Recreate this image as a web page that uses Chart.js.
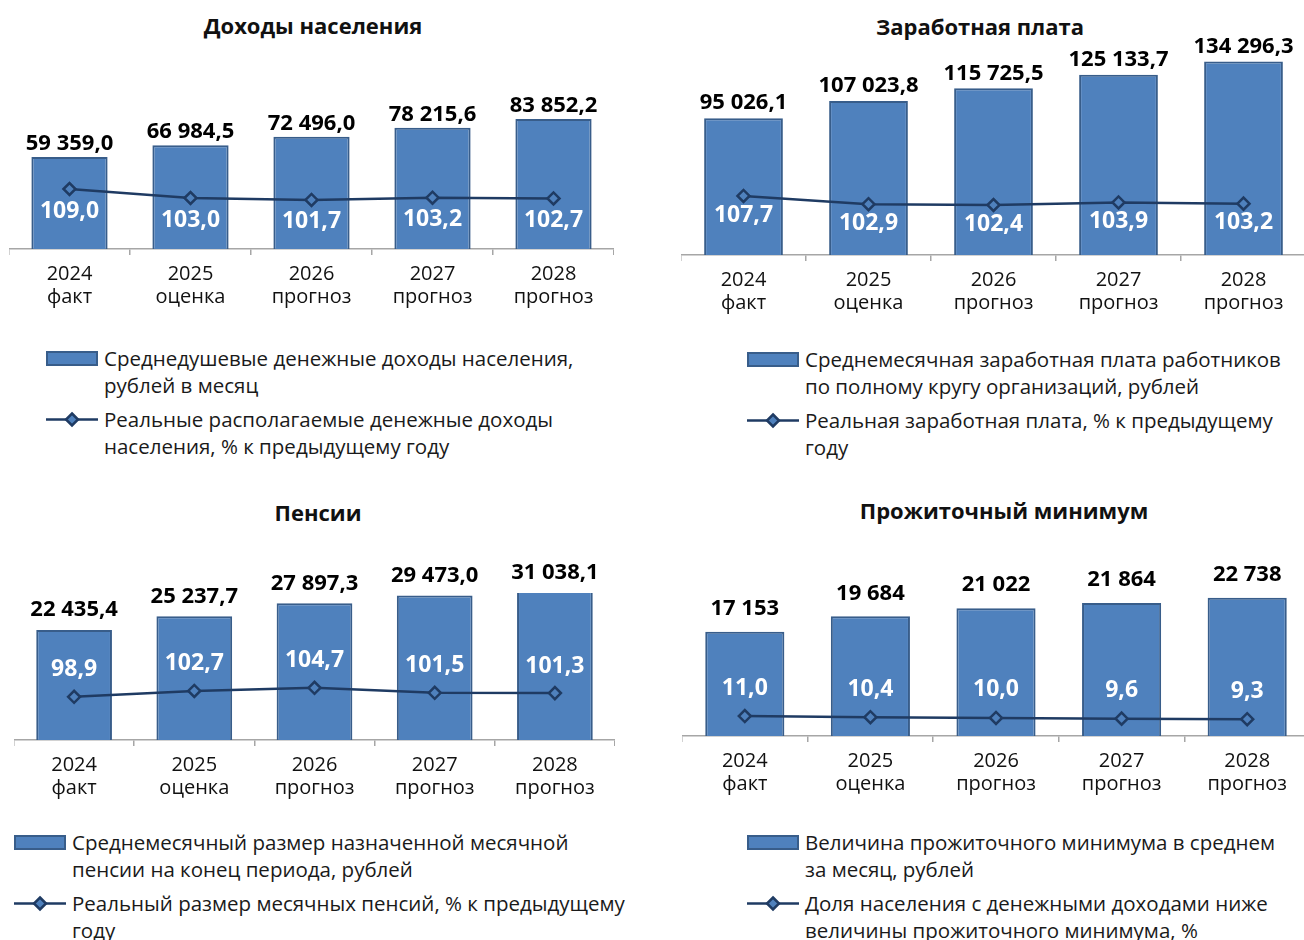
<!DOCTYPE html>
<html lang="ru">
<head>
<meta charset="utf-8">
<title>Доходы, зарплата, пенсии, прожиточный минимум</title>
<script src="https://cdn.jsdelivr.net/npm/chart.js@4.4.1/dist/chart.umd.min.js"></script>
<style>
  html, body { margin: 0; padding: 0; background: #fff; overflow: hidden; }
  body { width: 1304px; height: 940px; position: relative; font-family: "Open Sans", sans-serif; color: #111; }
  .title { position: absolute; font-weight: bold; font-size: 22px; transform: translate(-50%, -50%); white-space: nowrap; }
  .box { position: absolute; }
  .legend { position: absolute; font-size: 20.5px; line-height: 27px; color: #1a1a1a; }
  .item { position: relative; padding-left: 58px; margin-bottom: 7px; white-space: nowrap; }
  .sw { position: absolute; left: 0; top: 0; width: 52px; height: 27px; }
</style>
</head>
<body>

<div class="title" style="left:313px; top:25px;">Доходы населения</div>
<div class="title" style="left:980px; top:26px;">Заработная плата</div>
<div class="title" style="left:318px; top:512px;">Пенсии</div>
<div class="title" style="left:1004px; top:510px;">Прожиточный минимум</div>

<div class="box" style="left:9px; top:20px; width:605px; height:297px;"><canvas id="incomeChart"></canvas></div>
<div class="box" style="left:681px; top:10px; width:625px; height:313px;"><canvas id="wageChart"></canvas></div>
<div class="box" style="left:14px; top:540px; width:601px; height:268px;"><canvas id="pensionChart"></canvas></div>
<div class="box" style="left:682px; top:540px; width:628px; height:264px;"><canvas id="minimumChart"></canvas></div>

<div class="legend" id="incomeLegend" style="left:46px; top:345px;"></div>
<div class="legend" id="wageLegend" style="left:747px; top:346px;"></div>
<div class="legend" id="pensionLegend" style="left:14px; top:829px;"></div>
<div class="legend" id="minimumLegend" style="left:747px; top:829px;"></div>

<script>
// categories
const years = [['2024', 'факт'], ['2025', 'оценка'], ['2026', 'прогноз'], ['2027', 'прогноз'], ['2028', 'прогноз']];

// Доходы населения
const incomeValues = [59359.0, 66984.5, 72496.0, 78215.6, 83852.2];
const realIncomeValues = [109.0, 103.0, 101.7, 103.2, 102.7];
const incomeBarLabel = ['Среднедушевые денежные доходы населения,', 'рублей в месяц'];
const incomeLineLabel = ['Реальные располагаемые денежные доходы', 'населения, % к предыдущему году'];

// Заработная плата
const wageValues = [95026.1, 107023.8, 115725.5, 125133.7, 134296.3];
const realWageValues = [107.7, 102.9, 102.4, 103.9, 103.2];
const wageBarLabel = ['Среднемесячная заработная плата работников', 'по полному кругу организаций, рублей'];
const wageLineLabel = ['Реальная заработная плата, % к предыдущему', 'году'];

// Пенсии
const pensionValues = [22435.4, 25237.7, 27897.3, 29473.0, 31038.1];
const realPensionValues = [98.9, 102.7, 104.7, 101.5, 101.3];
const pensionBarLabel = ['Среднемесячный размер назначенной месячной', 'пенсии на конец периода, рублей'];
const pensionLineLabel = ['Реальный размер месячных пенсий, % к предыдущему', 'году'];

// Прожиточный минимум
const minimumValues = [17153, 19684, 21022, 21864, 22738];
const belowMinimumShare = [11.0, 10.4, 10.0, 9.6, 9.3];
const minimumBarLabel = ['Величина прожиточного минимума в среднем', 'за месяц, рублей'];
const minimumLineLabel = ['Доля населения с денежными доходами ниже', 'величины прожиточного минимума, %'];

const BAR_FILL = '#4f81bd';
const BAR_BORDER = '#385d8a';
const LINE_COLOR = '#1f3b63';
const AXIS_GRAY = '#a6a6a6';
const FONT = '"Open Sans", sans-serif';

// 59359.0 -> "59 359,0"
function fmt(v, d) {
    const parts = v.toFixed(d).split('.');
    const whole = parts[0].replace(/\B(?=(\d{3})+(?!\d))/g, ' ');
    return parts.length > 1 ? whole + ',' + parts[1] : whole;
}

// Draws the value labels (no datalabels plugin available offline)
const valueLabels = {
    id: 'valueLabels',
    afterDatasetsDraw(chart, args, opts) {
        const ctx = chart.ctx;
        const area = chart.chartArea;
        ctx.save();
        ctx.textAlign = 'center';
        ctx.textBaseline = 'middle';
        chart.data.datasets.forEach((ds, i) => {
            const meta = chart.getDatasetMeta(i);
            meta.data.forEach((el, j) => {
                const v = ds.data[j];
                if (ds.type === 'bar') {
                    const top = Math.max(el.y, area.top);
                    ctx.font = 'bold 22px ' + FONT;
                    ctx.fillStyle = '#000';
                    ctx.fillText(fmt(v, opts.barDecimals), el.x, top - opts.barOffset);
                } else {
                    ctx.font = 'bold 23px ' + FONT;
                    ctx.fillStyle = '#fff';
                    ctx.fillText(fmt(v, 1), el.x, el.y + opts.lineOffset);
                }
            });
        });
        ctx.restore();
    }
};

function makeChart(id, barValues, lineValues, barLabel, lineLabel, s) {
    const ctx = document.getElementById(id).getContext('2d');
    return new Chart(ctx, {
        data: {
            labels: years,
            datasets: [{
                type: 'line',
                label: lineLabel.join(' '),
                data: lineValues,
                yAxisID: 'y1',
                order: 1,
                borderColor: LINE_COLOR,
                borderWidth: 2.5,
                pointStyle: 'rectRot',
                pointRadius: 6,
                pointBorderWidth: 2.5,
                pointBorderColor: LINE_COLOR,
                pointBackgroundColor: BAR_FILL,
                tension: 0
            }, {
                type: 'bar',
                label: barLabel.join(' '),
                data: barValues,
                yAxisID: 'y',
                order: 2,
                backgroundColor: BAR_FILL,
                borderColor: BAR_BORDER,
                borderWidth: 2,
                categoryPercentage: 1,
                barPercentage: 0.63,
                clip: 0
            }]
        },
        options: {
            responsive: true,
            maintainAspectRatio: false,
            animation: false,
            layout: { autoPadding: false, padding: { top: s.padTop, left: 0, right: 0, bottom: 0 } },
            plugins: {
                legend: { display: false },
                tooltip: { enabled: false },
                valueLabels: { barDecimals: s.barDecimals, barOffset: s.barOffset, lineOffset: s.lineOffset }
            },
            scales: {
                x: {
                    offset: true,
                    grid: {
                        offset: true,
                        drawOnChartArea: false,
                        drawTicks: true,
                        tickLength: 6,
                        color: AXIS_GRAY,
                        lineWidth: 1.5
                    },
                    border: { display: true, color: AXIS_GRAY, width: 1.5 },
                    ticks: {
                        color: '#111',
                        padding: 8,
                        maxRotation: 0,
                        autoSkip: false,
                        font: { family: FONT, size: 20, lineHeight: 1.15 }
                    }
                },
                y: { display: false, min: 0, max: s.barMax },
                y1: { display: false, min: s.lineMin, max: s.lineMax }
            }
        },
        plugins: [valueLabels]
    });
}

function swatchSvg(kind) {
    if (kind === 'bar') {
        return '<svg class="sw" viewBox="0 0 52 27"><rect x="1" y="7" width="50" height="13" fill="' + BAR_FILL +
            '" stroke="' + BAR_BORDER + '" stroke-width="2"/></svg>';
    }
    return '<svg class="sw" viewBox="0 0 52 27"><line x1="0" y1="13.5" x2="52" y2="13.5" stroke="' + LINE_COLOR +
        '" stroke-width="2.5"/><polygon points="26,7.5 32,13.5 26,19.5 20,13.5" fill="' + BAR_FILL +
        '" stroke="' + LINE_COLOR + '" stroke-width="2.5"/></svg>';
}

function buildLegend(id, barLabel, lineLabel) {
    const el = document.getElementById(id);
    [['bar', barLabel], ['line', lineLabel]].forEach(([kind, lines]) => {
        const item = document.createElement('div');
        item.className = 'item';
        item.innerHTML = swatchSvg(kind) + lines.join('<br>');
        el.appendChild(item);
    });
}

document.addEventListener('DOMContentLoaded', () => {
    makeChart('incomeChart', incomeValues, realIncomeValues, incomeBarLabel, incomeLineLabel,
        { padTop: 43, barMax: 120000, lineMin: 69, lineMax: 193, barDecimals: 1, barOffset: 13, lineOffset: 22 });
    makeChart('wageChart', wageValues, realWageValues, wageBarLabel, wageLineLabel,
        { padTop: 29, barMax: 150000, lineMin: 73, lineMax: 200, barDecimals: 1, barOffset: 15, lineOffset: 19 });
    makeChart('pensionChart', pensionValues, realPensionValues, pensionBarLabel, pensionLineLabel,
        { padTop: 53, barMax: 30000, lineMin: 71, lineMax: 166, barDecimals: 1, barOffset: 20, lineOffset: -27 });
    makeChart('minimumChart', minimumValues, belowMinimumShare, minimumBarLabel, minimumLineLabel,
        { padTop: 44, barMax: 25000, lineMin: 0, lineMax: 84, barDecimals: 0, barOffset: 23, lineOffset: -28 });

    buildLegend('incomeLegend', incomeBarLabel, incomeLineLabel);
    buildLegend('wageLegend', wageBarLabel, wageLineLabel);
    buildLegend('pensionLegend', pensionBarLabel, pensionLineLabel);
    buildLegend('minimumLegend', minimumBarLabel, minimumLineLabel);
});
</script>
</body>
</html>
